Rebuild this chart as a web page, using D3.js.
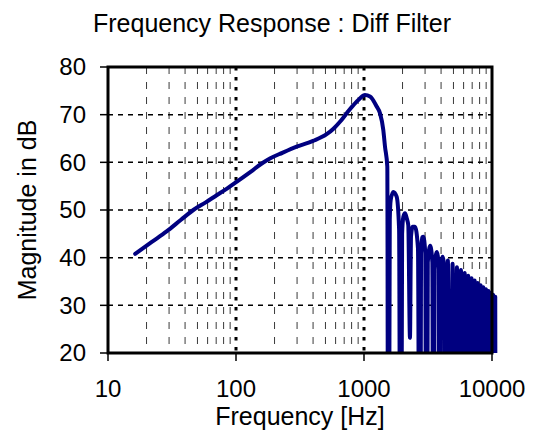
<!DOCTYPE html>
<html>
<head>
<meta charset="utf-8">
<script src="https://cdn.jsdelivr.net/npm/d3@7"></script>
<style>
  body { margin: 0; background: #fff; }
  svg text { font-family: "Liberation Sans", Arial, sans-serif; fill: #000; }
</style>
</head>
<body>
<div class="freqChart"></div>
<script>
// values (nulls fall far below the 20 dB floor)
const freqHz = [16.3, 22, 28.7, 37, 46.4, 58, 70.6, 85, 101, 130, 160, 184, 230, 298, 400, 511, 580, 649, 733, 826, 920, 1018, 1114, 1257, 1334, 1415, 1459, 1521,
  1549, 1590, 1617, 1695, 1799, 1880, 1935, 1985, 2030, 2091, 2160, 2218, 2286, 2330, 2400, 2500, 2640, 2735,
  2790, 2850, 2906, 3010, 3084, 3150, 3290, 3420, 3490, 3560, 3700, 3840, 3900, 3980, 4110, 4250, 4320,
  4520, 4720, 4920, 5120, 5320, 5520, 5720, 5920, 6120, 6320, 6520, 6720, 6920, 7120, 7320, 7520,
  7730, 7950, 8150, 8350, 8550, 8750, 8970, 9200, 9400, 9600, 9800, 10000, 10200, 10400, 10600, 10750];
const magDb = [40.8, 43.3, 45.5, 47.9, 50.0, 51.6, 53.1, 54.5, 55.9, 58.0, 59.8, 60.8, 62.0, 63.3, 64.5, 65.9, 67.1, 68.5, 70.3, 72.0, 73.3, 74.1, 73.8, 71.7, 70.3, 66.8, 63.3, 59.1,
  -60, 48, 52.1, 53.8, 52.8, 46, -60, 45, 48.6, 49.3, 48.2, 46.8, 23.2, 44.5, 46.5, 46.5, 42, -60,
  41, 44.3, 44.4, 41, -60, 39, 42.5, 39, -60, 37.5, 41.2, 38, -60, 37, 40.2, 37, -60,
  39.4, -60, 38.7, -60, 38.0, -60, 37.4, -60, 36.8, -60, 36.2, -60, 35.7, -60, 35.2, -60,
  34.7, -60, 34.2, -60, 33.8, -60, 33.4, -60, 33.0, -60, 32.6, -60, 32.2, -60, 31.8, -60];

const xMajor = [10, 100, 1000, 10000];
const xMinor = [20, 30, 40, 50, 60, 70, 80, 90, 200, 300, 400, 500, 600, 700, 800, 900, 2000, 3000, 4000, 5000, 6000, 7000, 8000, 9000];
const yTicks = [20, 30, 40, 50, 60, 70, 80];

const titleText = "Frequency Response : Diff Filter";
const xTitle = "Frequency [Hz]";
const yTitle = "Magnitude in dB";

const width = 535, height = 432;
const svg = d3.select(".freqChart").append("svg")
  .attr("width", width)
  .attr("height", height);

const x = d3.scaleLog().domain([10, 10000]).range([108, 492]);
const y = d3.scaleLinear().domain([20, 80]).range([353, 67]);

const plotL = x(10), plotR = x(10000), plotT = y(80), plotB = y(20);

// gridlines
svg.selectAll(".minor")
  .data(xMinor)
  .join("line")
  .attr("class", "minor")
  .attr("x1", d => x(d)).attr("x2", d => x(d))
  .attr("y1", plotT).attr("y2", plotB)
  .style("stroke", "#3a3a3a")
  .style("stroke-width", 1)
  .style("stroke-dasharray", "7,8");

svg.selectAll(".hgrid")
  .data(yTicks.filter(d => d > 20 && d < 80))
  .join("line")
  .attr("class", "hgrid")
  .attr("x1", plotL).attr("x2", plotR)
  .attr("y1", d => y(d)).attr("y2", d => y(d))
  .style("stroke", "#000")
  .style("stroke-width", 1.5)
  .style("stroke-dasharray", "5,5");

svg.selectAll(".major")
  .data(xMajor.filter(d => d > 10 && d < 10000))
  .join("line")
  .attr("class", "major")
  .attr("x1", d => x(d)).attr("x2", d => x(d))
  .attr("y1", plotT).attr("y2", plotB)
  .style("stroke", "#000")
  .style("stroke-width", 3)
  .style("stroke-dasharray", "3.5,6.5");

// curve, cut at the bottom axis
svg.append("clipPath").attr("id", "plotClip")
  .append("rect")
  .attr("x", plotL).attr("y", 0)
  .attr("width", 400).attr("height", plotB);

const pts = freqHz.map((f, i) => [f, magDb[i]]);
const line = d3.line()
  .x(d => x(d[0]))
  .y(d => y(d[1]))
  .curve(d3.curveMonotoneX);

svg.append("path")
  .datum(pts)
  .attr("clip-path", "url(#plotClip)")
  .attr("d", line)
  .attr("fill", "none")
  .style("stroke", "#000080")
  .style("stroke-width", 4)
  .style("stroke-linejoin", "round")
  .style("stroke-linecap", "round");

// frame
svg.append("rect")
  .attr("x", plotL).attr("y", plotT)
  .attr("width", plotR - plotL).attr("height", plotB - plotT)
  .attr("fill", "none")
  .style("stroke", "#000")
  .style("stroke-width", 3);

// ticks
svg.selectAll(".ytick")
  .data(yTicks)
  .join("line")
  .attr("class", "ytick")
  .attr("x1", plotL - 8).attr("x2", plotL)
  .attr("y1", d => y(d)).attr("y2", d => y(d))
  .style("stroke", "#000").style("stroke-width", 1.5);

svg.selectAll(".xtick")
  .data(xMajor)
  .join("line")
  .attr("class", "xtick")
  .attr("x1", d => x(d)).attr("x2", d => x(d))
  .attr("y1", plotB).attr("y2", plotB + 8)
  .style("stroke", "#000").style("stroke-width", 1.5);

svg.selectAll(".ylab")
  .data(yTicks)
  .join("text")
  .attr("class", "ylab")
  .attr("x", 86)
  .attr("y", d => y(d))
  .attr("dy", "0.35em")
  .attr("text-anchor", "end")
  .style("font-size", "24px")
  .text(d => d);

svg.selectAll(".xlab")
  .data(xMajor)
  .join("text")
  .attr("class", "xlab")
  .attr("x", d => x(d))
  .attr("y", 397)
  .attr("text-anchor", "middle")
  .style("font-size", "24px")
  .text(d => d);

// titles
svg.append("text")
  .attr("x", 272).attr("y", 32)
  .attr("text-anchor", "middle")
  .style("font-size", "25px")
  .text(titleText);

svg.append("text")
  .attr("x", 300).attr("y", 425)
  .attr("text-anchor", "middle")
  .style("font-size", "25px")
  .text(xTitle);

svg.append("text")
  .attr("transform", "translate(36," + ((plotT + plotB) / 2) + ") rotate(-90)")
  .attr("text-anchor", "middle")
  .style("font-size", "25px")
  .text(yTitle);
</script>
</body>
</html>
